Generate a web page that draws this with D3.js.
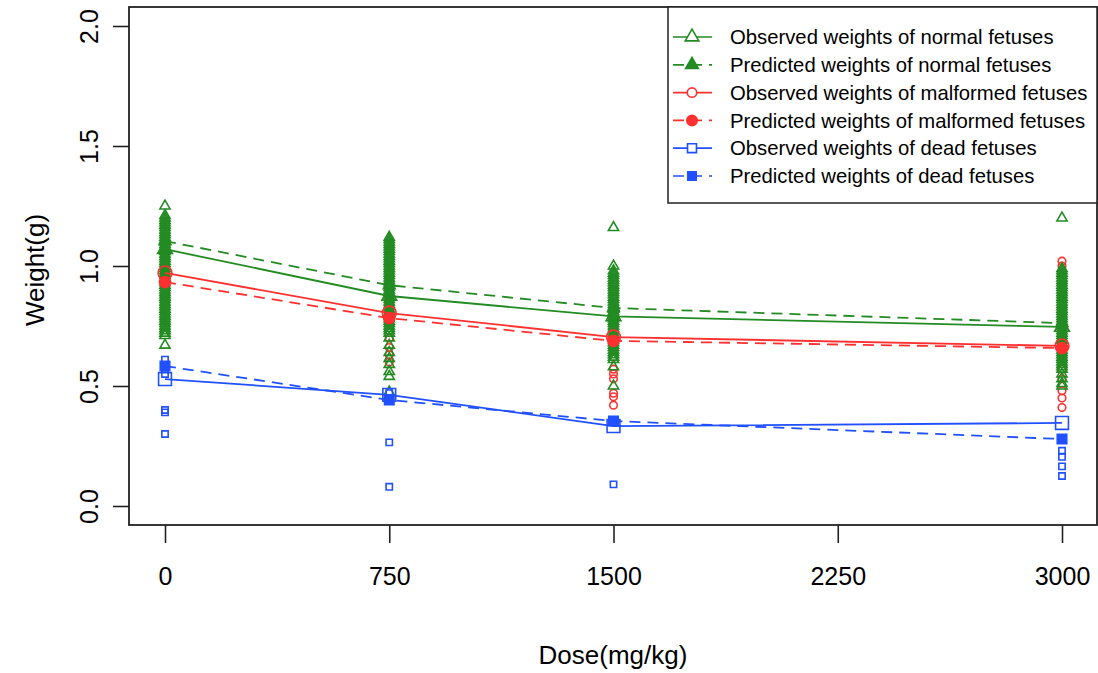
<!DOCTYPE html>
<html>
<head>
<meta charset="utf-8">
<script src="https://cdn.jsdelivr.net/npm/d3@7"></script>
<style>
  body { margin: 0; background: #fff; }
  text { font-family: "Liberation Sans", Arial, sans-serif; fill: #000; }
</style>
</head>
<body>
<svg id="chart" width="1098" height="673"></svg>
<script>
const SVG = d3.select('#chart');
const GREEN = '#228B22';
const RED = '#FF3030';
const BLUE = '#2050FF';

// DATA
const doses = [0, 750, 1500, 3000];
const xTicks = [0, 750, 1500, 2250, 3000];
const yTicks = [0.0, 0.5, 1.0, 1.5, 2.0];

const obsNormalMean = [1.07, 0.875, 0.79, 0.746];
const predNormal = [1.104, 0.92, 0.825, 0.762];
const obsMalformedMean = [0.971, 0.804, 0.704, 0.667];
const predMalformed = [0.933, 0.783, 0.688, 0.658];
const obsDeadMean = [0.529, 0.463, 0.333, 0.346];
const predDead = [0.583, 0.442, 0.354, 0.279];

// individual fetus weights per dose group
const normal0 = [1.25, 1.21, 1.20, 1.19, 1.18, 1.17, 1.16, 1.15, 1.14, 1.13, 1.12, 1.11, 1.10, 1.09, 1.08,
  1.07, 1.06, 1.05, 1.04, 1.03, 1.02, 1.01, 1.00, 0.99, 0.98, 0.97, 0.96, 0.95, 0.94, 0.93, 0.92, 0.91,
  0.90, 0.89, 0.88, 0.87, 0.86, 0.85, 0.84, 0.83, 0.82, 0.81, 0.80, 0.79, 0.78, 0.77, 0.76, 0.75, 0.74,
  0.73, 0.72, 0.71, 0.67];
const normal750 = [1.12, 1.11, 1.10, 1.09, 1.08, 1.07, 1.06, 1.05, 1.04, 1.03, 1.02, 1.01, 1.00, 0.99,
  0.98, 0.97, 0.96, 0.95, 0.94, 0.93, 0.92, 0.91, 0.90, 0.89, 0.88, 0.87, 0.86, 0.85, 0.84, 0.83, 0.82,
  0.81, 0.80, 0.79, 0.78, 0.77, 0.76, 0.75, 0.74, 0.73, 0.72, 0.70, 0.67, 0.64, 0.615, 0.59, 0.56, 0.54,
  0.475];
const normal1500 = [1.16, 1.00, 0.98, 0.97, 0.96, 0.95, 0.94, 0.93, 0.92, 0.91, 0.90, 0.89, 0.88, 0.87,
  0.86, 0.85, 0.84, 0.83, 0.82, 0.81, 0.80, 0.79, 0.78, 0.77, 0.76, 0.75, 0.74, 0.73, 0.72, 0.71, 0.70,
  0.69, 0.68, 0.67, 0.66, 0.65, 0.64, 0.63, 0.62, 0.61, 0.58, 0.50];
const normal3000 = [1.20, 0.99, 0.98, 0.97, 0.96, 0.95, 0.94, 0.93, 0.92, 0.91, 0.90, 0.89, 0.88, 0.87,
  0.86, 0.85, 0.84, 0.83, 0.82, 0.81, 0.80, 0.79, 0.78, 0.77, 0.76, 0.75, 0.74, 0.73, 0.72, 0.71, 0.70,
  0.69, 0.68, 0.67, 0.66, 0.65, 0.64, 0.63, 0.62, 0.61, 0.60, 0.59, 0.58, 0.57, 0.55, 0.53, 0.51, 0.50];

const malformed0 = [1.05, 0.98, 0.92, 0.88, 0.85];
const malformed750 = [0.95, 0.85, 0.78, 0.70, 0.66, 0.63, 0.60];
const malformed1500 = [0.90, 0.80, 0.62, 0.57, 0.55, 0.53, 0.47, 0.455, 0.42];
const malformed3000 = [1.02, 1.00, 0.57, 0.53, 0.48, 0.45, 0.41];

const dead0 = [0.61, 0.55, 0.40, 0.39, 0.30];
const dead750 = [0.47, 0.265, 0.08];
const dead1500 = [0.35, 0.09];
const dead3000 = [0.23, 0.205, 0.165, 0.125];

const legendLabels = [
  'Observed weights of normal fetuses',
  'Predicted weights of normal fetuses',
  'Observed weights of malformed fetuses',
  'Predicted weights of malformed fetuses',
  'Observed weights of dead fetuses',
  'Predicted weights of dead fetuses'
];

// SCALES
const x = d3.scaleLinear().domain([0, 3000]).range([165, 1062]);
const y = d3.scaleLinear().domain([0, 2]).range([506, 26]);
const BOX = { left: 129, right: 1097, top: 7, bottom: 525 };

function flatten(groups) {
  const out = [];
  groups.forEach((g, i) => g.forEach(v => out.push({ dose: doses[i], value: v })));
  return out;
}

function symbolPath(type, size) {
  return d3.symbol().type(type).size(size)();
}

function drawPoints(data, type, size, color, filled) {
  SVG.append('g')
    .selectAll('path')
    .data(data)
    .join('path')
    .attr('d', symbolPath(type, size))
    .attr('transform', d => `translate(${x(d.dose)},${y(d.value)})`)
    .attr('fill', filled ? color : 'none')
    .attr('stroke', color)
    .attr('stroke-width', 1.6);
}

function drawSeries(values, color, dashed, type, size, filled) {
  const pts = values.map((v, i) => ({ dose: doses[i], value: v }));
  SVG.append('path')
    .datum(pts)
    .attr('d', d3.line().x(d => x(d.dose)).y(d => y(d.value)))
    .attr('fill', 'none')
    .attr('stroke', color)
    .attr('stroke-width', 1.8)
    .attr('stroke-dasharray', dashed ? '11,7' : null);
  drawPoints(pts, type, size, color, filled);
}

// individual observations
drawPoints(flatten([malformed0, malformed750, malformed1500, malformed3000]), d3.symbolCircle, 45, RED, false);
drawPoints(flatten([normal0, normal750, normal1500, normal3000]), d3.symbolTriangle, 45, GREEN, false);
drawPoints(flatten([dead0, dead750, dead1500, dead3000]), d3.symbolSquare, 40, BLUE, false);

// mean + predicted curves
drawSeries(obsNormalMean, GREEN, false, d3.symbolTriangle, 95, false);
drawSeries(predNormal, GREEN, true, d3.symbolTriangle, 60, true);
drawSeries(obsMalformedMean, RED, false, d3.symbolCircle, 150, false);
drawSeries(predMalformed, RED, true, d3.symbolCircle, 95, true);
drawSeries(obsDeadMean, BLUE, false, d3.symbolSquare, 165, false);
drawSeries(predDead, BLUE, true, d3.symbolSquare, 90, true);

// box
SVG.append('rect')
  .attr('x', BOX.left)
  .attr('y', BOX.top)
  .attr('width', BOX.right - BOX.left)
  .attr('height', BOX.bottom - BOX.top)
  .attr('fill', 'none')
  .attr('stroke', '#222')
  .attr('stroke-width', 1.8);

// axes
const xAxis = SVG.append('g')
  .attr('transform', `translate(0,${BOX.bottom})`)
  .call(d3.axisBottom(x).tickValues(xTicks).tickFormat(d3.format('d')).tickSize(18).tickSizeOuter(0).tickPadding(24));
xAxis.select('.domain').remove();
xAxis.selectAll('line').attr('stroke', '#222').attr('stroke-width', 1.6);
xAxis.selectAll('text').attr('font-size', 25).attr('font-family', '"Liberation Sans", Arial, sans-serif');

const yAxis = SVG.append('g')
  .attr('transform', `translate(${BOX.left},0)`)
  .call(d3.axisLeft(y).tickValues(yTicks).tickFormat(d3.format('.1f')).tickSize(16).tickSizeOuter(0));
yAxis.select('.domain').remove();
yAxis.selectAll('line').attr('stroke', '#222').attr('stroke-width', 1.6);
yAxis.selectAll('text')
  .attr('font-size', 25)
  .attr('font-family', '"Liberation Sans", Arial, sans-serif')
  .attr('x', null)
  .attr('dy', null)
  .attr('text-anchor', 'middle')
  .attr('transform', 'translate(-40,0) rotate(-90)')
  .attr('y', 0)
  .attr('dominant-baseline', 'central');

// axis titles
SVG.append('text')
  .attr('x', 613)
  .attr('y', 664)
  .attr('text-anchor', 'middle')
  .attr('font-size', 26)
  .text('Dose(mg/kg)');

SVG.append('text')
  .attr('transform', 'translate(44,270) rotate(-90)')
  .attr('text-anchor', 'middle')
  .attr('font-size', 26)
  .text('Weight(g)');

// legend
const LEG = { left: 668, top: 7, right: 1097, bottom: 203 };
const legend = SVG.append('g');
legend.append('rect')
  .attr('x', LEG.left)
  .attr('y', LEG.top)
  .attr('width', LEG.right - LEG.left)
  .attr('height', LEG.bottom - LEG.top)
  .attr('fill', '#fff')
  .attr('stroke', '#222')
  .attr('stroke-width', 1.5);

const legendItems = [
  { color: GREEN, dashed: false, type: d3.symbolTriangle, size: 80, filled: false },
  { color: GREEN, dashed: true, type: d3.symbolTriangle, size: 70, filled: true },
  { color: RED, dashed: false, type: d3.symbolCircle, size: 70, filled: false },
  { color: RED, dashed: true, type: d3.symbolCircle, size: 85, filled: true },
  { color: BLUE, dashed: false, type: d3.symbolSquare, size: 80, filled: false },
  { color: BLUE, dashed: true, type: d3.symbolSquare, size: 70, filled: true }
];

legendItems.forEach((item, i) => {
  const cy = 37 + i * 27.8;
  legend.append('line')
    .attr('x1', 673).attr('x2', 712)
    .attr('y1', cy).attr('y2', cy)
    .attr('stroke', item.color)
    .attr('stroke-width', 1.7)
    .attr('stroke-dasharray', item.dashed ? '11,7' : null);
  legend.append('path')
    .attr('d', symbolPath(item.type, item.size))
    .attr('transform', `translate(692,${cy})`)
    .attr('fill', item.filled ? item.color : '#fff')
    .attr('stroke', item.color)
    .attr('stroke-width', 1.6);
  legend.append('text')
    .attr('x', 730)
    .attr('y', cy)
    .attr('dy', '0.35em')
    .attr('font-size', 20.3)
    .text(legendLabels[i]);
});
</script>
</body>
</html>
